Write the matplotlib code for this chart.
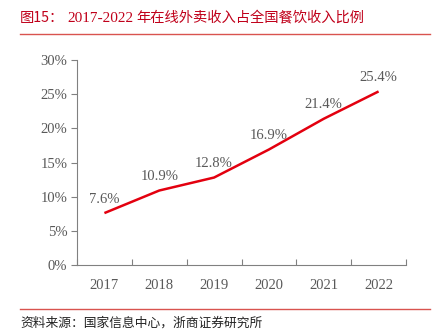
import matplotlib
matplotlib.use("Agg")
import matplotlib.pyplot as plt
from matplotlib.lines import Line2D

years = ["2017", "2018", "2019", "2020", "2021", "2022"]
values = [7.6, 10.9, 12.8, 16.9, 21.4, 25.4]
value_labels = ["7.6%", "10.9%", "12.8%", "16.9%", "21.4%", "25.4%"]
y_ticks = [0, 5, 10, 15, 20, 25, 30]
y_tick_labels = ["0%", "5%", "10%", "15%", "20%", "25%", "30%"]

W, H = 442, 334
fig = plt.figure(figsize=(W / 100, H / 100), dpi=100)
ax = fig.add_axes([77 / W, (H - 265) / H, (406 - 77) / W, (265 - 60) / H])

serif = ["Liberation Serif", "DejaVu Serif"]
cjk = ["Noto Sans CJK SC", "DejaVu Sans"]
gray = "#595959"

x = list(range(len(years)))
ax.plot(x, values, color="#E3000F", lw=1.8, solid_capstyle="butt")
ax.set_xlim(-0.5, len(years) - 0.5)
ax.set_ylim(0, 30)
ax.set_yticks(y_ticks)
ax.set_yticklabels(y_tick_labels, fontfamily=serif, fontsize=10.5, color=gray)
ax.set_xticks(x)
ax.set_xticklabels(years, fontfamily=serif, fontsize=10.5, color=gray)
ax.set_xticks([i - 0.5 for i in range(len(years) + 1)], minor=True)
ax.tick_params(axis="x", which="major", length=0, pad=10)
ax.tick_params(axis="x", which="minor", length=4, direction="in", color="#808080", width=0.8)
ax.tick_params(axis="y", length=4, direction="out", color="#808080", width=0.8, pad=3)
for s in ["top", "right"]:
    ax.spines[s].set_visible(False)
for s in ["left", "bottom"]:
    ax.spines[s].set_color("#808080")
    ax.spines[s].set_linewidth(0.8)

for xi, v, lab in zip(x, values, value_labels):
    ax.annotate(lab, (xi, v), xytext=(0, 14), textcoords="offset pixels",
                ha="center", va="center", fontfamily=serif, fontsize=10.5, color=gray)

title_color = "#C0001A"
fig.text(20 / W, 1 - 18 / H, "图15：", fontfamily=cjk, fontsize=10.3, color=title_color,
         ha="left", va="center")
fig.text(67 / W, 1 - 18 / H, "2017-2022", fontfamily=serif, fontsize=11, color=title_color,
         ha="left", va="center")
fig.text(136 / W, 1 - 18 / H, "年在线外卖收入占全国餐饮收入比例", fontfamily=cjk, fontsize=10.3,
         color=title_color, ha="left", va="center")

fig.add_artist(Line2D([20 / W, 430 / W], [1 - 34 / H, 1 - 34 / H], color="#D9534F", lw=1.0,
                      transform=fig.transFigure))
fig.add_artist(Line2D([20 / W, 430 / W], [1 - 309 / H, 1 - 309 / H], color="#D9534F", lw=1.0,
                      transform=fig.transFigure))
fig.text(20 / W, 1 - 323 / H, "资料来源：国家信息中心，浙商证券研究所", fontfamily=cjk, fontsize=9.2,
         color="#222222", ha="left", va="center")

fig.savefig("out.png", dpi=100)
